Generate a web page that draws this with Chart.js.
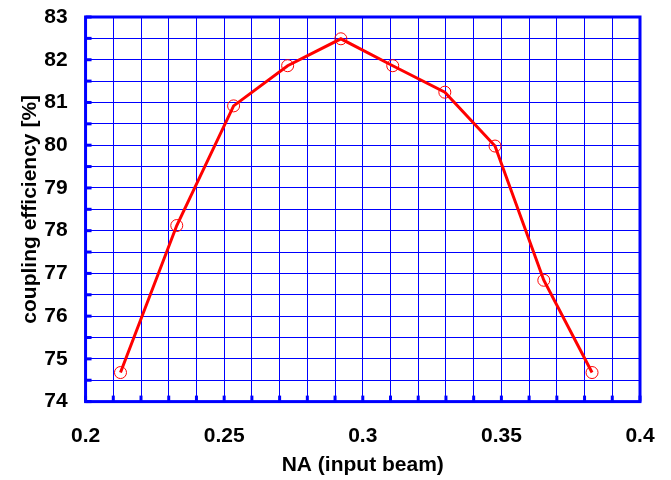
<!DOCTYPE html>
<html>
<head>
<meta charset="utf-8">
<script src="https://cdn.jsdelivr.net/npm/chart.js@4"></script>
<style>
  html, body { margin: 0; padding: 0; background: #fff; }
  #wrap { width: 671px; height: 480px; }
</style>
</head>
<body>
<div id="wrap"><canvas id="chart" width="671" height="480"></canvas></div>
<script>
// values
const naValues = [0.2126, 0.2329, 0.2534, 0.2729, 0.2921, 0.3108, 0.3296, 0.3477, 0.3653, 0.3827];
const efficiency = [74.68, 78.12, 80.92, 81.86, 82.49, 81.86, 81.24, 79.98, 76.84, 74.68];
const xLabels = [0.2, 0.25, 0.3, 0.35, 0.4];
const yLabels = [74, 75, 76, 77, 78, 79, 80, 81, 82, 83];

const BLUE = '#0000ff';
const FONT = "'Liberation Sans', Arial, sans-serif";

// thick frame + small inward tick stubs
const framePlugin = {
  id: 'frame',
  afterDraw(chart) {
    const { ctx, chartArea: a, scales } = chart;
    ctx.save();
    ctx.strokeStyle = BLUE;
    ctx.lineWidth = 3;
    scales.y.ticks.forEach(t => {
      const y = scales.y.getPixelForValue(t.value);
      ctx.beginPath(); ctx.moveTo(a.left, y); ctx.lineTo(a.left + 6, y); ctx.stroke();
    });
    scales.x.ticks.forEach(t => {
      const x = scales.x.getPixelForValue(t.value);
      ctx.beginPath(); ctx.moveTo(x, a.bottom); ctx.lineTo(x, a.bottom - 6); ctx.stroke();
    });
    ctx.strokeRect(a.left, a.top, a.right - a.left, a.bottom - a.top);
    ctx.restore();
  }
};

const near = (v, list) => list.some(l => Math.abs(v - l) < 1e-6);

new Chart(document.getElementById('chart').getContext('2d'), {
  type: 'scatter',
  data: {
    datasets: [{
      data: naValues.map((x, i) => ({ x, y: efficiency[i] })),
      showLine: true,
      borderColor: '#ff0000',
      borderWidth: 3,
      pointRadius: 6,
      pointBorderWidth: 1,
      pointBorderColor: '#ff0000',
      pointBackgroundColor: 'rgba(0,0,0,0)',
    }]
  },
  options: {
    responsive: false,
    animation: false,
    layout: { padding: { left: 18, right: 31, top: 17, bottom: 2 } },
    plugins: { legend: { display: false }, tooltip: { enabled: false } },
    scales: {
      x: {
        type: 'linear', min: 0.2, max: 0.4,
        border: { display: false },
        grid: { color: BLUE, lineWidth: 1, drawTicks: false },
        afterFit: s => { s.paddingRight = 0; },
        ticks: {
          stepSize: 0.01, autoSkip: false, maxRotation: 0, padding: 22,
          color: '#000', font: { family: FONT, size: 21, weight: 'bold' },
          callback: v => near(v, xLabels) ? String(+v.toFixed(2)) : ''
        },
        title: {
          display: true, text: 'NA (input beam)', color: '#000',
          font: { family: FONT, size: 21, weight: 'bold' }, padding: { top: -18, bottom: 0 }
        }
      },
      y: {
        type: 'linear', min: 74, max: 83,
        border: { display: false },
        grid: { color: BLUE, lineWidth: 1, drawTicks: false },
        afterFit: s => { s.paddingTop = 0; },
        ticks: {
          stepSize: 0.5, autoSkip: false, padding: 18,
          color: '#000', font: { family: FONT, size: 21, weight: 'bold' },
          callback: v => near(v, yLabels) ? String(v) : ''
        },
        title: {
          display: true, text: 'coupling efficiency [%]', color: '#000',
          font: { family: FONT, size: 21, weight: 'bold' }, padding: { top: 0, bottom: -17 }
        }
      }
    }
  },
  plugins: [framePlugin]
});
</script>
</body>
</html>
